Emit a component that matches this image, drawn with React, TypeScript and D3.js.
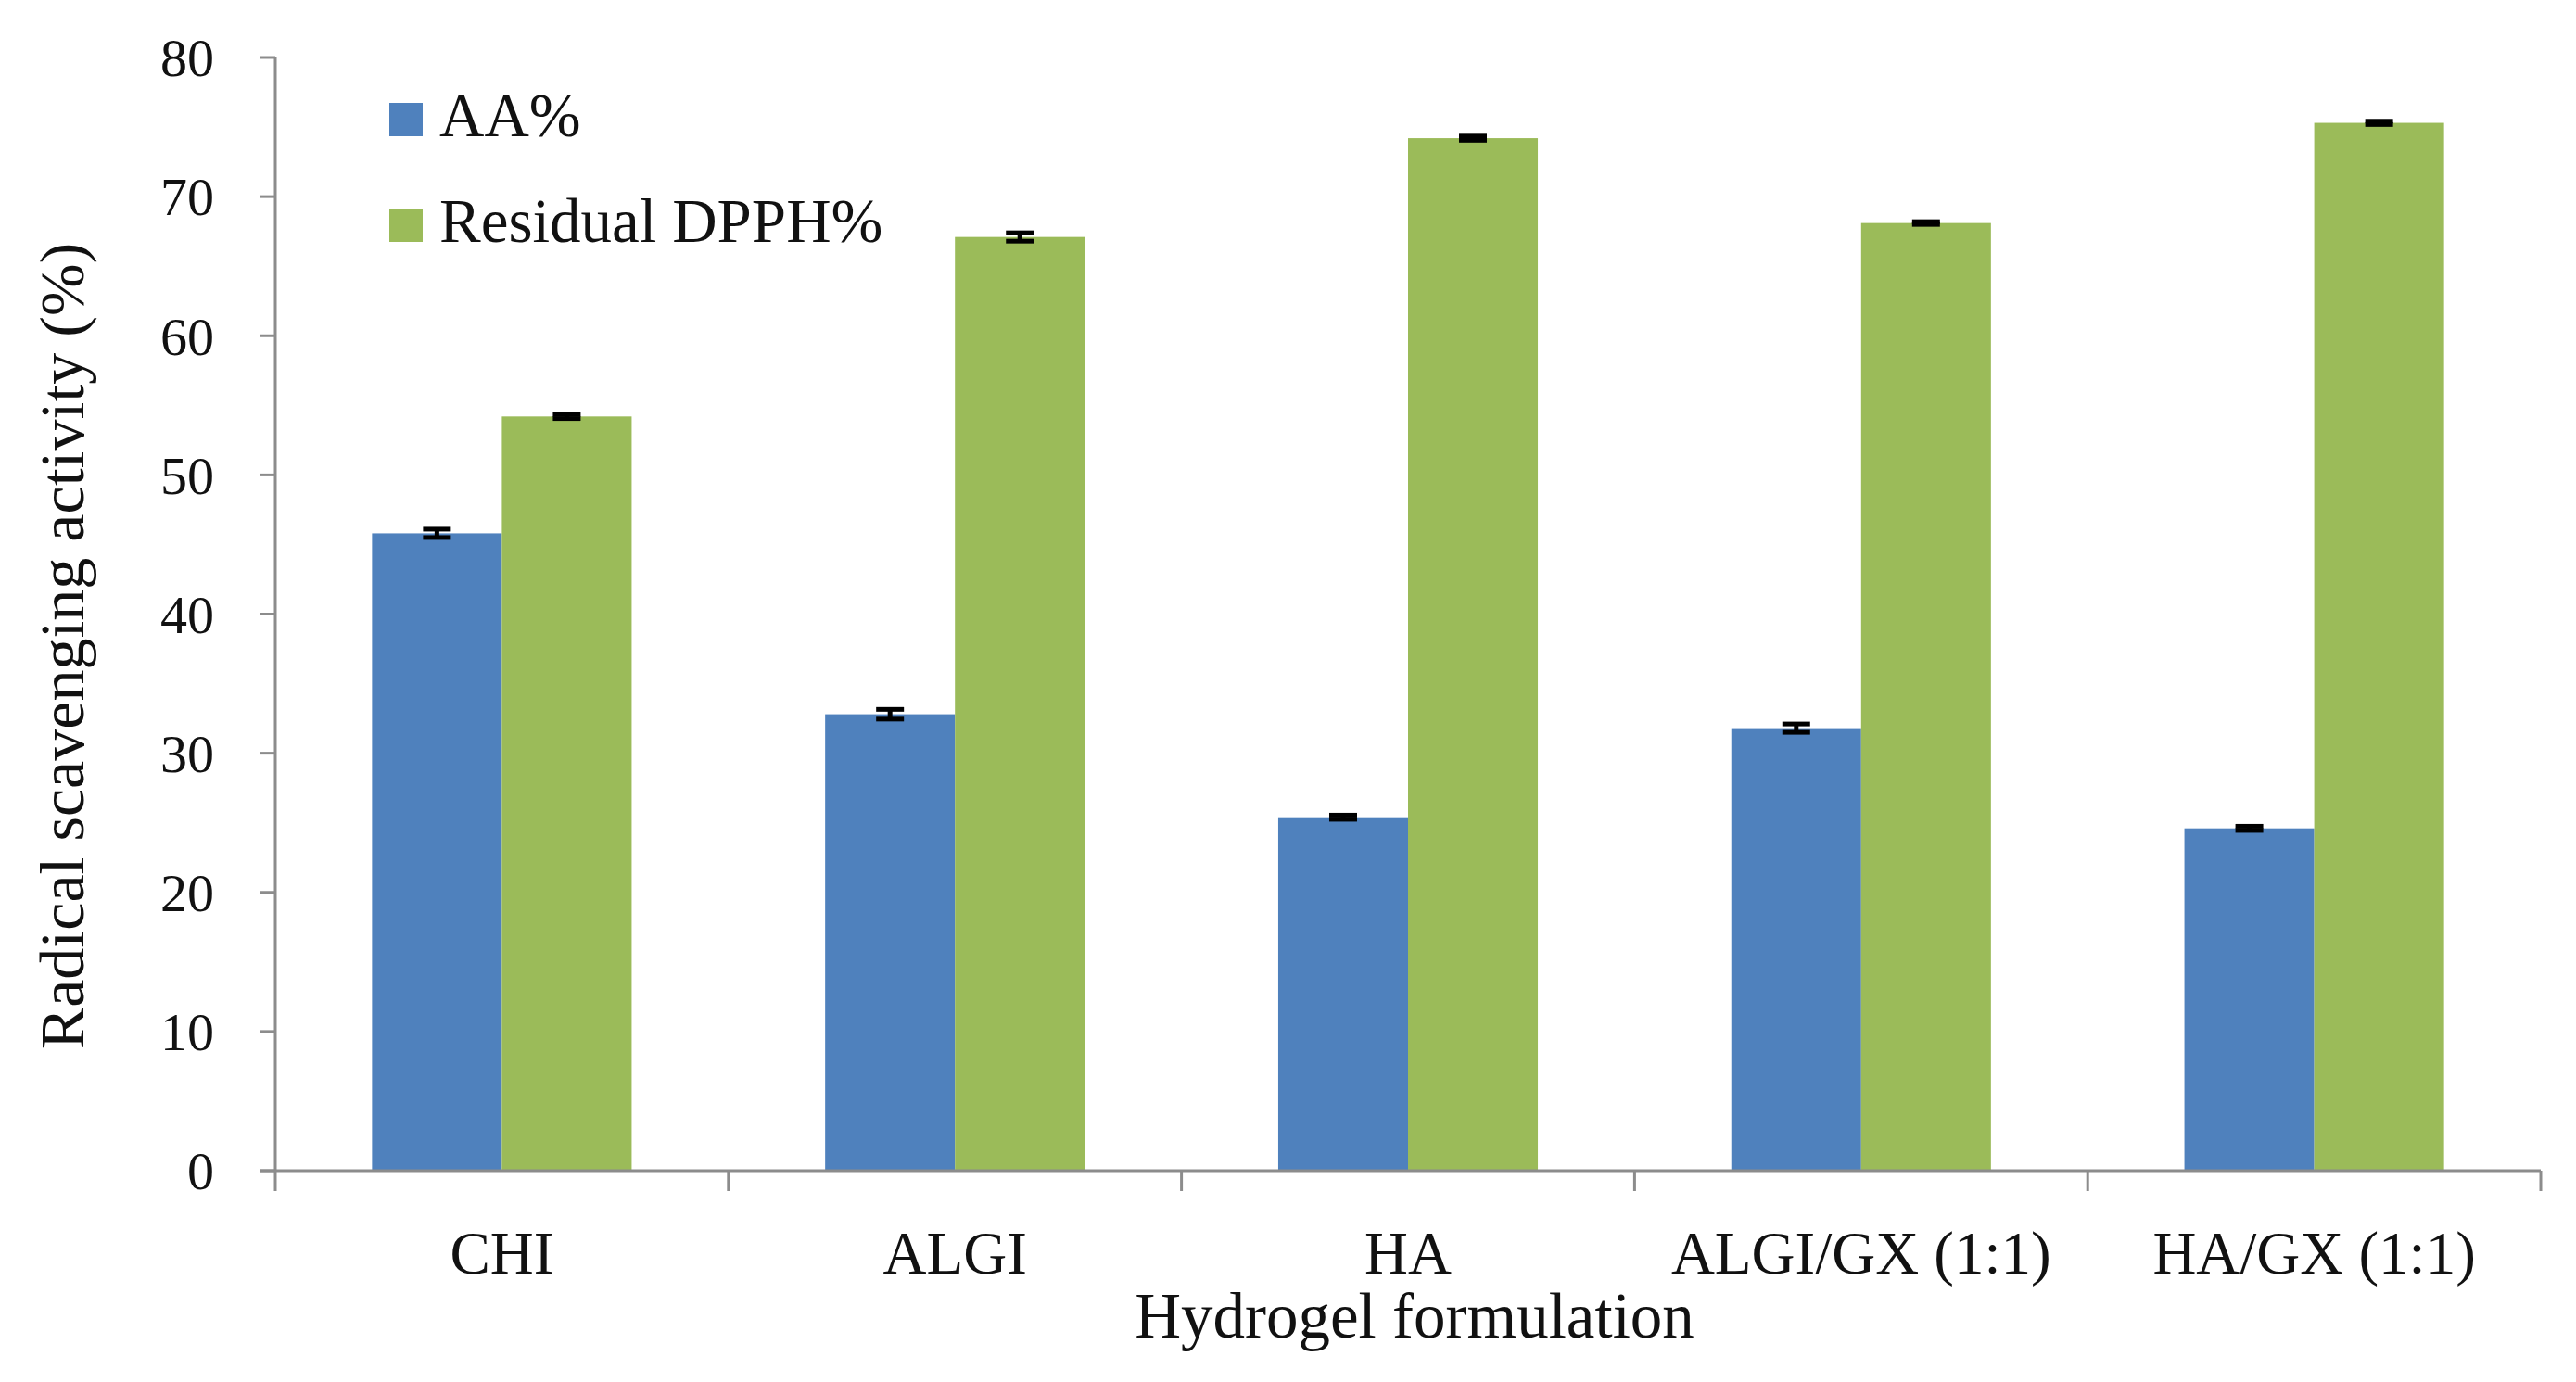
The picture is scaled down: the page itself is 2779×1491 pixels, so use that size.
import * as d3 from "d3";

// Data
const categories = ["CHI", "ALGI", "HA", "ALGI/GX (1:1)", "HA/GX (1:1)"];
const seriesNames = ["AA%", "Residual DPPH%"];
const aaValues = [45.8, 32.8, 25.4, 31.8, 24.6];
const aaErrors = [0.3, 0.35, 0.15, 0.3, 0.15];
const dpphValues = [54.2, 67.1, 74.2, 68.1, 75.3];
const dpphErrors = [0.15, 0.3, 0.15, 0.1, 0.12];
const yTicks = [0, 10, 20, 30, 40, 50, 60, 70, 80];

const colors = ["#4F81BD", "#9BBB59"];

const width = 2779;
const height = 1491;
const margin = { left: 297, right: 38, top: 62, bottom: 228 };
const font = "'Liberation Serif', 'Times New Roman', serif";
const axisColor = "#8c8c8c";

const App = () => {
  const plotRight = width - margin.right;
  const plotBottom = height - margin.bottom;

  const x0 = d3
    .scaleBand<string>()
    .domain(categories)
    .range([margin.left, plotRight])
    .padding(0);
  const bw = x0.bandwidth();
  // two bars of ~140px centred in each ~489px category (Excel gap width 150%)
  const gap = bw * 0.2135;
  const x1 = d3.scaleBand<string>().domain(seriesNames).range([gap, bw - gap]);

  const y = d3.scaleLinear().domain([0, 80]).range([plotBottom, margin.top]);

  const series = [
    { name: seriesNames[0], values: aaValues, errors: aaErrors, color: colors[0] },
    { name: seriesNames[1], values: dpphValues, errors: dpphErrors, color: colors[1] },
  ];

  const boundaries = [...categories.map((c) => x0(c)!), plotRight];
  const capHalf = 15;

  return (
    <svg
      width={width}
      height={height}
      style={{ position: "absolute", left: 0, top: 0, background: "#fff" }}
      fontFamily={font}
    >
      {/* bars */}
      {series.map((s) => (
        <g key={s.name}>
          {categories.map((c, i) => (
            <rect
              key={c}
              x={x0(c)! + x1(s.name)!}
              y={y(s.values[i])}
              width={x1.bandwidth()}
              height={y(0) - y(s.values[i])}
              fill={s.color}
            />
          ))}
        </g>
      ))}

      {/* error bars */}
      {series.map((s) => (
        <g key={s.name + "-err"} stroke="#000" strokeWidth={5}>
          {categories.map((c, i) => {
            const cx = x0(c)! + x1(s.name)! + x1.bandwidth() / 2;
            const hi = y(s.values[i] + s.errors[i]);
            const lo = y(s.values[i] - s.errors[i]);
            return (
              <g key={c}>
                <line x1={cx} x2={cx} y1={hi} y2={lo} />
                <line x1={cx - capHalf} x2={cx + capHalf} y1={hi} y2={hi} />
                <line x1={cx - capHalf} x2={cx + capHalf} y1={lo} y2={lo} />
              </g>
            );
          })}
        </g>
      ))}

      {/* y axis */}
      <g>
        <line
          x1={margin.left}
          x2={margin.left}
          y1={margin.top}
          y2={plotBottom}
          stroke={axisColor}
          strokeWidth={3}
        />
        {yTicks.map((t) => (
          <g key={t}>
            <line
              x1={margin.left - 17}
              x2={margin.left}
              y1={y(t)}
              y2={y(t)}
              stroke={axisColor}
              strokeWidth={3}
            />
            <text
              x={231}
              y={y(t)}
              dy="0.35em"
              textAnchor="end"
              fontSize={58}
              fill="#111"
            >
              {t}
            </text>
          </g>
        ))}
      </g>

      {/* x axis */}
      <g>
        <line
          x1={margin.left - 17}
          x2={plotRight}
          y1={plotBottom}
          y2={plotBottom}
          stroke={axisColor}
          strokeWidth={3}
        />
        {boundaries.map((b, i) => (
          <line
            key={i}
            x1={b}
            x2={b}
            y1={plotBottom}
            y2={plotBottom + 22}
            stroke={axisColor}
            strokeWidth={3}
          />
        ))}
        {categories.map((c) => (
          <text
            key={c}
            x={x0(c)! + bw / 2}
            y={1374}
            textAnchor="middle"
            fontSize={65}
            fill="#111"
          >
            {c}
          </text>
        ))}
      </g>

      {/* axis titles */}
      <text
        x={(margin.left + plotRight) / 2 + 7}
        y={1443}
        textAnchor="middle"
        fontSize={69}
        fill="#111"
      >
        Hydrogel formulation
      </text>
      <text
        transform={`translate(90, 697) rotate(-90)`}
        textAnchor="middle"
        fontSize={68}
        fill="#111"
      >
        Radical scavenging activity (%)
      </text>

      {/* legend */}
      {series.map((s, i) => (
        <g key={s.name + "-leg"} transform={`translate(420, ${111 + i * 114})`}>
          <rect x={0} y={0} width={36} height={36} fill={s.color} />
          <text x={54} y={36} fontSize={67} fill="#111">
            {s.name}
          </text>
        </g>
      ))}
    </svg>
  );
};

export default App;
